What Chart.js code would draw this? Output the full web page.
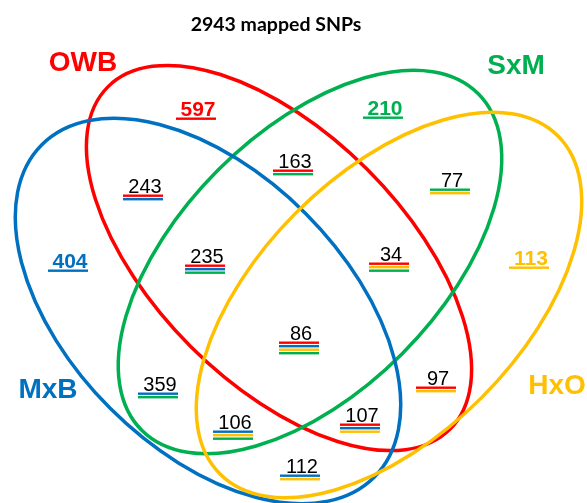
<!DOCTYPE html>
<html>
<head>
<meta charset="utf-8">
<script src="https://cdn.jsdelivr.net/npm/chart.js@4"></script>
<style>
  html, body { margin: 0; padding: 0; background: #fff; }
  #wrap { width: 587px; height: 503px; }
</style>
</head>
<body>
<div id="wrap"><canvas id="venn" width="587" height="503"></canvas></div>
<script>
// sets and their colours
const setNames = ['OWB', 'SxM', 'MxB', 'HxO'];
const setColors = { OWB: '#FF0000', SxM: '#00B050', MxB: '#0070C0', HxO: '#FFC000' };

// region counts and which sets they belong to (underline order as in the figure)
const regionCounts = [597, 210, 404, 113, 243, 163, 235, 77, 34, 86, 359, 106, 112, 107, 97];
const regionSets = [
    ['OWB'], ['SxM'], ['MxB'], ['HxO'],
    ['OWB', 'MxB'], ['OWB', 'SxM'], ['OWB', 'MxB', 'SxM'], ['SxM', 'HxO'],
    ['OWB', 'HxO', 'SxM'], ['OWB', 'MxB', 'HxO', 'SxM'], ['MxB', 'SxM'],
    ['MxB', 'HxO', 'SxM'], ['MxB', 'HxO'], ['OWB', 'MxB', 'HxO'], ['OWB', 'HxO']
];
const title = '2943 mapped SNPs';

// layout (chart units = pixels of the 587x503 picture, y down)
const regionPos = [
    [197, 116], [384, 115], [69, 268], [530, 265],
    [144, 193], [294, 168], [206, 263], [451, 187],
    [390, 261], [300, 340], [159, 391], [234, 429],
    [301, 473], [361, 422], [437, 385]
];
const ellipses = {
    OWB: { cx: 279, cy: 258, a: 242, b: 125, rot: 45 },
    SxM: { cx: 310, cy: 262, a: 238, b: 130, rot: -45 },
    MxB: { cx: 208, cy: 311, a: 235, b: 138, rot: 45 },
    HxO: { cx: 389, cy: 305, a: 239, b: 131, rot: -45 }
};
const setLabelPos = { OWB: [83, 63], SxM: [516, 66], MxB: [48, 390], HxO: [557, 386] };

const vennPlugin = {
    id: 'venn',
    beforeDatasetsDraw(chart) {
        const ctx = chart.ctx;
        const xs = chart.scales.x, ys = chart.scales.y;
        const kx = xs.getPixelForValue(1) - xs.getPixelForValue(0);
        const ky = ys.getPixelForValue(1) - ys.getPixelForValue(0);
        ctx.save();
        ctx.lineWidth = 3.5;
        ['OWB', 'SxM', 'MxB', 'HxO'].forEach(function(name) {
            const e = ellipses[name];
            ctx.beginPath();
            ctx.strokeStyle = setColors[name];
            ctx.ellipse(xs.getPixelForValue(e.cx), ys.getPixelForValue(e.cy),
                e.a * Math.abs(kx), e.b * Math.abs(ky), e.rot * Math.PI / 180, 0, Math.PI * 2);
            ctx.stroke();
        });

        // set names
        ctx.font = 'bold 28px "Liberation Sans", Arial, sans-serif';
        ctx.textAlign = 'center';
        ctx.textBaseline = 'middle';
        setNames.forEach(function(name) {
            const p = setLabelPos[name];
            ctx.fillStyle = setColors[name];
            ctx.fillText(name, xs.getPixelForValue(p[0]), ys.getPixelForValue(p[1]));
        });

        // title
        ctx.fillStyle = '#000';
        ctx.font = 'bold 19.5px Lato, "Open Sans", sans-serif';
        ctx.fillText(title, xs.getPixelForValue(276), ys.getPixelForValue(25));
        ctx.restore();
    },
    afterDatasetsDraw(chart) {
        const ctx = chart.ctx;
        const meta = chart.getDatasetMeta(0);
        ctx.save();
        ctx.textAlign = 'center';
        ctx.textBaseline = 'alphabetic';
        meta.data.forEach(function(pt, i) {
            const sets = regionSets[i];
            const single = sets.length === 1;
            ctx.font = single ? 'bold 21px "Liberation Sans", Arial, sans-serif'
                              : '20px "Liberation Sans", Arial, sans-serif';
            ctx.fillStyle = single ? setColors[sets[0]] : '#000';
            ctx.fillText(String(regionCounts[i]), pt.x + 1, pt.y);
            sets.forEach(function(s, j) {
                ctx.fillStyle = setColors[s];
                ctx.fillRect(pt.x - 21, pt.y + 1.5 + j * 3.5, 40, 2.4);
            });
        });
        ctx.restore();
    }
};

new Chart(document.getElementById('venn'), {
    type: 'scatter',
    data: {
        datasets: [{
            data: regionPos.map(function(p) { return { x: p[0], y: p[1] }; }),
            pointRadius: 0,
            pointHoverRadius: 0
        }]
    },
    options: {
        responsive: false,
        animation: false,
        devicePixelRatio: 1,
        layout: { padding: 0 },
        scales: {
            x: { type: 'linear', min: 0, max: 587, display: false },
            y: { type: 'linear', min: 0, max: 503, reverse: true, display: false }
        },
        plugins: {
            legend: { display: false },
            tooltip: { enabled: false }
        }
    },
    plugins: [vennPlugin]
});
</script>
</body>
</html>
